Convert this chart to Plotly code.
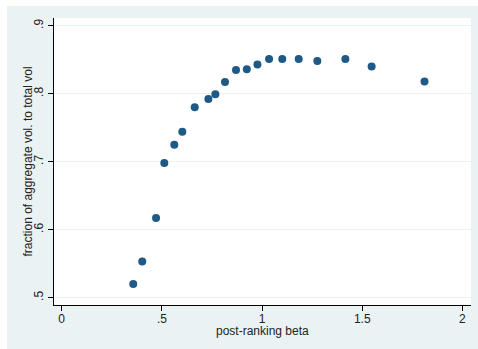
import plotly.graph_objects as go

beta = [0.357, 0.402, 0.471, 0.512, 0.562, 0.602, 0.664, 0.732, 0.767, 0.815,
        0.870, 0.924, 0.977, 1.035, 1.101, 1.183, 1.276, 1.416, 1.547, 1.811]
frac = [0.520, 0.553, 0.617, 0.698, 0.725, 0.744, 0.780, 0.792, 0.799, 0.817,
        0.835, 0.836, 0.843, 0.851, 0.851, 0.851, 0.848, 0.851, 0.840, 0.818]

x_ticks = [0, 0.5, 1, 1.5, 2]
x_labels = ["0", ".5", "1", "1.5", "2"]
y_ticks = [0.5, 0.6, 0.7, 0.8, 0.9]
y_labels = [".5", ".6", ".7", ".8", ".9"]
x_title = "post-ranking beta"
y_title = "fraction of aggregate vol. to total vol"

region = "#EAF2F3"
font = "Liberation Sans, Arial, sans-serif"
PW, PH = 417, 287

fig = go.Figure(go.Scatter(
    x=beta, y=frac, mode="markers",
    marker=dict(color="#1F5A86", size=8, line=dict(width=0)),
))

fig.update_layout(
    width=478, height=349,
    margin=dict(l=54, r=7, t=18, b=44),
    paper_bgcolor=region, plot_bgcolor="white",
    showlegend=False,
    font=dict(family=font, size=12, color="#222222"),
    xaxis=dict(
        range=[-0.0385, 2.043], tickvals=x_ticks, ticktext=x_labels,
        showgrid=False, zeroline=False, showline=True, linecolor="black",
        linewidth=1.2, ticks="outside", ticklen=5, tickcolor="black",
        tickfont=dict(size=12), ticklabelstandoff=-3,
    ),
    yaxis=dict(
        range=[0.4892, 0.9113], tickvals=y_ticks, ticktext=y_labels,
        showgrid=True, gridcolor=region, gridwidth=1, zeroline=False,
        showline=True, linecolor="black", linewidth=1.2,
        ticks="outside", ticklen=5, tickcolor="black", tickangle=-90,
        tickfont=dict(size=12),
    ),
    annotations=[
        dict(text=x_title, xref="paper", yref="paper", x=(262 - 54) / PW,
             y=(305 - 331) / PH, xanchor="center", yanchor="middle",
             showarrow=False, font=dict(size=12)),
        dict(text=y_title, xref="paper", yref="paper", x=(27 - 54) / PW,
             y=0.5, xanchor="center", yanchor="middle", textangle=-90,
             showarrow=False, font=dict(size=12)),
    ],
    shapes=[
        dict(type="rect", xref="paper", yref="paper", layer="below",
             x0=-54/PW, x1=-47/PW, y0=-44/PH, y1=1 + 18/PH,
             fillcolor="white", line=dict(width=0)),
        dict(type="rect", xref="paper", yref="paper", layer="below",
             x0=-54/PW, x1=1 + 7/PW, y0=1 + 12/PH, y1=1 + 18/PH,
             fillcolor="white", line=dict(width=0)),
    ],
)

fig.write_html("out.html", config={"displayModeBar": False},
               post_script="document.body.style.margin='0';document.body.style.padding='0';")
